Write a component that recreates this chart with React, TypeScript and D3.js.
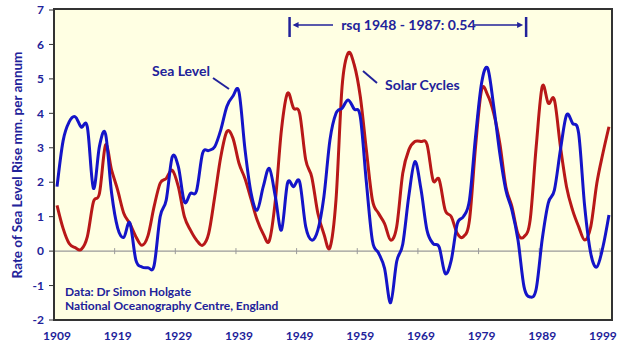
import React from "react";
import * as d3 from "d3";

const startYear = 1909;
const seaLevel = [
  1.87, 3.2, 3.75, 3.9, 3.6, 3.6, 1.82, 3.05, 3.4, 1.68,
  0.67, 0.4, 0.82, -0.26, -0.46, -0.48, -0.42, 1.0, 1.48, 2.74,
  2.45, 1.43, 1.68, 1.75, 2.84, 2.92, 3.03, 3.52, 4.2, 4.5,
  4.62, 2.94, 1.68, 1.19, 1.87, 2.4, 1.58, 0.61, 1.97, 1.87,
  2.01, 0.71, 0.32, 0.61, 1.58, 3.23, 4.0, 4.15, 4.39, 4.12,
  3.9, 2.0, 0.3, -0.05, -0.5, -1.5, -0.3, 0.2, 1.6, 2.6,
  1.8, 0.6, 0.22, 0.12, -0.65, -0.26, 0.8, 1.0, 1.48, 3.32,
  4.88, 5.31, 4.2, 2.84, 1.77, 1.19, 0.32, -1.04, -1.33, -1.1,
  0.35, 1.4, 1.77, 2.94, 3.95, 3.71, 3.42, 1.29, -0.07, -0.46,
  0.12, 1.05,
];
const solarCycles = [
  1.33, 0.66, 0.22, 0.1, 0.05, 0.42, 1.43, 1.68, 3.08, 2.35,
  1.77, 1.1, 0.8, 0.42, 0.17, 0.45, 1.29, 1.97, 2.11, 2.35,
  1.87, 1.0, 0.61, 0.32, 0.17, 0.51, 1.58, 2.74, 3.47, 3.28,
  2.55, 2.1, 1.5, 0.9, 0.5, 0.3, 1.48, 3.52, 4.58, 4.15,
  4.0, 2.65, 2.15, 1.1, 0.5, 0.1, 1.5, 4.78, 5.75, 5.41,
  4.49, 2.94, 1.48, 1.1, 0.8, 0.32, 0.71, 2.26, 2.94, 3.18,
  3.18, 3.1, 2.06, 2.08, 1.19, 1.0, 0.51, 0.42, 0.9, 3.03,
  4.68, 4.53, 4.0, 3.13, 1.87, 1.29, 0.5, 0.42, 0.9, 3.03,
  4.78, 4.29, 4.39, 3.03, 1.87, 1.19, 0.71, 0.32, 0.71, 1.97,
  2.84, 3.61,
];
const xTickLabels = [1909, 1919, 1929, 1939, 1949, 1959, 1969, 1979, 1989, 1999];
const yTicks = [-2, -1, 0, 1, 2, 3, 4, 5, 6, 7];
const yTitle = "Rate of Sea Level Rise mm. per annum";
const seaLabel = "Sea Level";
const solarLabel = "Solar Cycles";
const rsqLabel = "rsq 1948 - 1987: 0.54";
const rsqRange = [1948, 1987];
const sourceLines = ["Data:  Dr Simon Holgate", "National Oceanography Centre, England"];

const W = 624, H = 349;
const left = 54, right = 612, top = 10, bottom = 320;
const BLUE = "#1414C8";
const RED = "#B81818";
const TXT = "#22229A";
const FONT = "Lato, 'Open Sans', sans-serif";

export default function App() {
  const n = seaLevel.length;
  const x = d3.scaleLinear().domain([startYear - 0.5, startYear + n - 0.5]).range([left, right]);
  const y = d3.scaleLinear().domain([-2, 7]).range([bottom, top]);
  const line = d3
    .line<number>()
    .x((_, i) => x(startYear + i))
    .y((d) => y(d))
    .curve(d3.curveCardinal.tension(0));
  const boundaries = xTickLabels.slice(1).map((yr) => yr - 0.5);
  const rsqY = 25;
  const xl = x(rsqRange[0]) - 4;
  const xr = x(rsqRange[1]) - 4;

  return (
    <svg
      width={W}
      height={H}
      style={{ position: "absolute", left: 0, top: 0, background: "#fff" }}
      fontFamily={FONT}
    >
      <rect x={left} y={y(7) - 1} width={right - left} height={bottom - y(7) + 1} fill="#FFFFE3" />
      {/* zero axis */}
      <line x1={left} x2={right} y1={y(0)} y2={y(0)} stroke="#9a9a9a" strokeWidth={1.2} />
      {boundaries.map((b) => (
        <line key={b} x1={x(b)} x2={x(b)} y1={y(0) - 3} y2={y(0) + 3} stroke="#9a9a9a" strokeWidth={1} />
      ))}
      {/* lines */}
      <path d={line(solarCycles) || ""} fill="none" stroke={RED} strokeWidth={3} strokeLinejoin="round" />
      <path d={line(seaLevel) || ""} fill="none" stroke={BLUE} strokeWidth={3} strokeLinejoin="round" />
      {/* plot border */}
      <rect x={left} y={y(7) - 1} width={right - left} height={bottom - y(7) + 1} fill="none" stroke="#333" strokeWidth={2} />
      {/* y ticks */}
      {yTicks.map((t) => (
        <g key={t}>
          <line x1={left - 5} x2={left} y1={y(t)} y2={y(t)} stroke="#333" strokeWidth={1} />
          <text x={44} y={y(t)} dy="0.35em" textAnchor="end" fontSize={12} fontWeight={700} fill={TXT}>
            {t}
          </text>
        </g>
      ))}
      {xTickLabels.map((t) => (
        <text key={t} x={x(t)} y={340} textAnchor="middle" fontSize={12} fontWeight={700} fill={TXT}>
          {t}
        </text>
      ))}
      <text
        transform={`translate(22,${(top + bottom) / 2}) rotate(-90)`}
        textAnchor="middle"
        fontSize={13.5}
        fontWeight={700}
        fill={TXT}
      >
        {yTitle}
      </text>
      {/* annotations */}
      <text x={152} y={76} fontSize={14} fontWeight={700} fill={TXT}>{seaLabel}</text>
      <line x1={213} y1={78} x2={229} y2={89} stroke={TXT} strokeWidth={2} />
      <text x={385} y={90} fontSize={14} fontWeight={700} fill={TXT}>{solarLabel}</text>
      <line x1={363} y1={71} x2={377} y2={83} stroke={TXT} strokeWidth={2} />
      <text x={(xl + xr) / 2 + 0.5} y={rsqY + 5} textAnchor="middle" fontSize={14} fontWeight={700} fill={TXT}>
        {rsqLabel}
      </text>
      <line x1={xl} x2={xl} y1={rsqY - 8} y2={rsqY + 12} stroke={TXT} strokeWidth={2.5} />
      <line x1={xr} x2={xr} y1={rsqY - 8} y2={rsqY + 12} stroke={TXT} strokeWidth={2.5} />
      <line x1={xl + 5} x2={333} y1={rsqY} y2={rsqY} stroke={TXT} strokeWidth={1.5} />
      <path d={`M${xl + 3},${rsqY} l6,-3 l0,6 z`} fill={TXT} />
      <line x1={474} x2={xr - 5} y1={rsqY} y2={rsqY} stroke={TXT} strokeWidth={1.5} />
      <path d={`M${xr - 3},${rsqY} l-6,-3 l0,6 z`} fill={TXT} />
      <text x={65} y={296} fontSize={12} fontWeight={700} fill={TXT}>{sourceLines[0]}</text>
      <text x={65} y={310} fontSize={12} fontWeight={700} fill={TXT}>{sourceLines[1]}</text>
    </svg>
  );
}
